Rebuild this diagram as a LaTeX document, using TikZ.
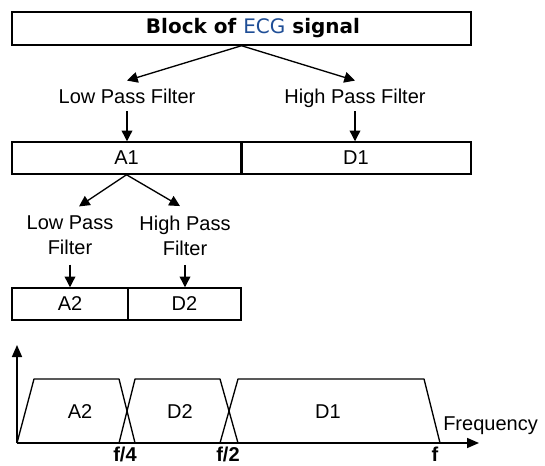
\documentclass[tikz,border=0pt]{standalone}
\usepackage{fontspec}
\setmainfont{Liberation Sans}
\newfontfamily\titlefont{DejaVu Sans}
\usetikzlibrary{arrows.meta}
\definecolor{ecgblue}{RGB}{31,78,150}

\begin{document}
\begin{tikzpicture}[x=0.75pt,y=0.75pt,yscale=-1,xscale=1,
        font=\fontsize{15}{18.75}\selectfont,
        band/.style={draw, line width=1.1pt, inner sep=0pt, minimum height=24pt},
        filt/.style={inner xsep=2pt, inner ysep=6pt, text height=10.75pt, text depth=0pt},
        filttwo/.style={inner xsep=2pt, inner ysep=7pt, align=center},
        arr/.style={line width=1pt, -{Triangle[length=8pt,width=8pt]}},
        axis/.style={line width=1.2pt, -{Triangle[length=9pt,width=7.5pt]}},
        curve/.style={line width=1pt, line join=round}]
        \useasboundingbox (0,0) rectangle (545,466);
        % top block
        \draw (241.5,28.5) node [band, minimum width=344.25pt, minimum height=24.75pt] (blk) {};
        \draw (253,28.5) node [inner sep=0pt] (title) {\titlefont\bfseries Block of {\mdseries\color{ecgblue}ECG} signal};
        % first level
        \draw (127,96) node [filt] (lpf1) {Low Pass Filter};
        \draw (355,96) node [filt] (hpf1) {High Pass Filter};
        \draw (126.5,158) node [band, minimum width=171.75pt] (a1) {A1};
        \draw (356,158) node [band, minimum width=172.5pt] (d1) {D1};
        \draw [line width=2.4pt] (a1.north east) -- (a1.south east);
        \draw [arr] (blk.south) -- (lpf1.north);
        \draw [arr] (blk.south) -- (hpf1.north);
        \draw [arr] (lpf1.south) -- (lpf1.south |- a1.north);
        \draw [arr] (hpf1.south) -- (hpf1.south |- d1.north);
        % second level
        \draw (70,235.5) node [filttwo] (lpf2) {Low Pass\\Filter};
        \draw (185,235.5) node [filttwo] (hpf2) {High Pass\\Filter};
        \draw (70,304) node [band, minimum width=87pt] (a2) {A2};
        \draw (184.5,304) node [band, minimum width=84.75pt] (d2) {D2};
        \draw [arr] (a1.south) -- ([xshift=6.75pt]lpf2.north);
        \draw [arr] (a1.south) -- ([xshift=-3.75pt]hpf2.north);
        \draw [arr] (lpf2.south) -- (lpf2.south |- a2.north);
        \draw [arr] (hpf2.south) -- (hpf2.south |- d2.north);
        % frequency bands
        \draw [axis] (17,443) -- (17,345);
        \draw [axis] (17,443) -- (479,443);
        \draw [curve] (17,443) -- (34,379) -- (119,379) -- (135,443);
        \draw [curve] (119,443) -- (135,379) -- (220,379) -- (238,443);
        \draw [curve] (220,443) -- (238,379) -- (424,379) -- (440,443);
        \draw (80,412) node (ba2) {A2};
        \draw (180,412) node (bd2) {D2};
        \draw (328,412) node (bd1) {D1};
        \draw (443,430) node [anchor=base west, inner sep=0pt] (freq) {Frequency};
        \draw (125,446.5) node [anchor=north, inner sep=0pt] (fq4) {\bfseries f/4};
        \draw (228,446.5) node [anchor=north, inner sep=0pt] (fq2) {\bfseries f/2};
        \draw (435,446.5) node [anchor=north, inner sep=0pt] (fq1) {\bfseries f};
    \end{tikzpicture}
\end{document}
